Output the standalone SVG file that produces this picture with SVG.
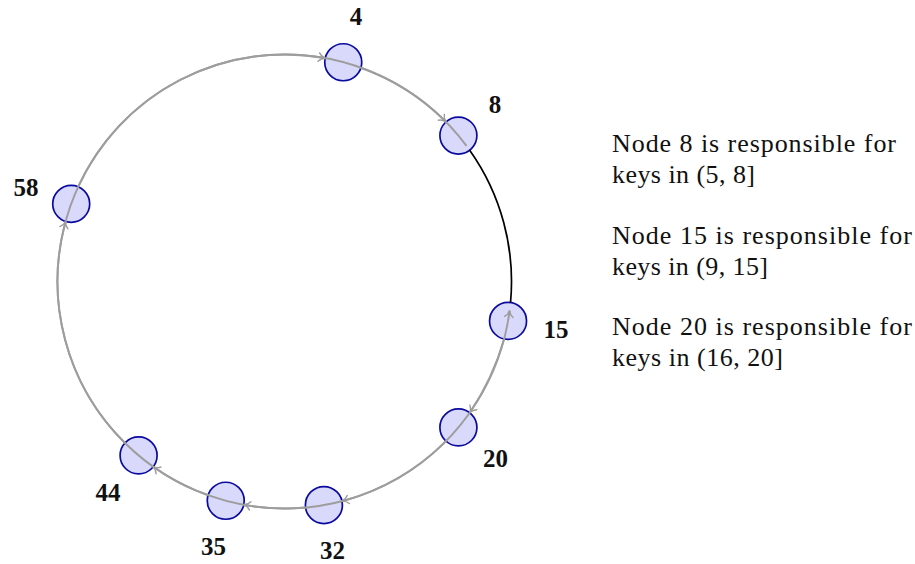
<svg xmlns="http://www.w3.org/2000/svg" width="915" height="564" viewBox="0 0 915 564">
<style>
.node circle{fill:#d9d9fb;stroke:#0a0aa0;stroke-width:1.7}
.lbl{font-family:"Liberation Serif",serif;font-weight:bold;font-size:25px;fill:#111;text-anchor:middle}
.txt{font-family:"Liberation Serif",serif;font-size:26px;fill:#111}
.arc{fill:none;stroke:#9d9d9d;stroke-width:1.9}
.arr{marker-end:url(#ah)}
.blk{fill:none;stroke:#000;stroke-width:1.7}
</style>
<defs>
<marker id="ah" markerUnits="userSpaceOnUse" markerWidth="14" markerHeight="14" viewBox="-8 -7 10 14" refX="0" refY="0" orient="auto" overflow="visible">
<path d="M -6.5 -4.2 C -4.8 -1.7 -1.9 -0.4 0 0 C -1.9 0.4 -4.8 1.7 -6.5 4.2" fill="none" stroke="#9d9d9d" stroke-width="1.4" stroke-linecap="round"/>
</marker>
</defs>
<g id="node4" class="node"><circle cx="343.25" cy="62.23" r="18.5"/><text class="lbl" x="356" y="25">4</text></g>
<g id="node8" class="node"><circle cx="458.4" cy="135.6" r="18.5"/><text class="lbl" x="495" y="113">8</text></g>
<g id="node15" class="node"><circle cx="508.05" cy="320.92" r="18.5"/><text class="lbl" x="556" y="338">15</text></g>
<g id="node20" class="node"><circle cx="458.4" cy="427.4" r="18.5"/><text class="lbl" x="495.5" y="467">20</text></g>
<g id="node32" class="node"><circle cx="323.9" cy="505.05" r="18.5"/><text class="lbl" x="332.5" y="559">32</text></g>
<g id="node35" class="node"><circle cx="225.75" cy="500.77" r="18.5"/><text class="lbl" x="213.5" y="555">35</text></g>
<g id="node44" class="node"><circle cx="138.6" cy="455.4" r="18.5"/><text class="lbl" x="108" y="501">44</text></g>
<g id="node58" class="node"><circle cx="71.2" cy="203.87" r="18.5"/><text class="lbl" x="26" y="196">58</text></g>
<g id="connectors">
<path class="arc arr" d="M 466.5 145.84 A 227 227 0 1 0 509.63 310.58"/>
<path class="blk" d="M 469.69 150.23 A 227 227 0 0 1 510.52 302.59"/>
<path class="arc arr" d="M 78.23 186.73 A 227 227 0 0 1 325.2 58.18"/>
<path class="arc arr" d="M 360.91 67.76 A 227 227 0 0 1 445.92 121.9"/>
<path class="arc arr" d="M 504.1 338.98 A 260 260 0 0 1 469.69 412.77"/>
<path class="arc arr" d="M 445.92 441.1 A 227 227 0 0 1 341.98 501.1"/>
<path class="arc arr" d="M 305.59 507.52 A 227 227 0 0 1 243.8 504.82"/>
<path class="arc arr" d="M 208.09 495.24 A 227 227 0 0 1 153.23 466.69"/>
<path class="arc arr" d="M 124.9 442.92 A 227 227 0 0 1 65.58 221.48"/>
</g>
<g id="notes">
<text class="txt" x="612" y="152" textLength="284" lengthAdjust="spacing">Node 8 is responsible for</text>
<text class="txt" x="612" y="183" textLength="143" lengthAdjust="spacing">keys in (5, 8]</text>
<text class="txt" x="612" y="244" textLength="300" lengthAdjust="spacing">Node 15 is responsible for</text>
<text class="txt" x="612" y="275" textLength="156" lengthAdjust="spacing">keys in (9, 15]</text>
<text class="txt" x="612" y="335" textLength="300" lengthAdjust="spacing">Node 20 is responsible for</text>
<text class="txt" x="612" y="366" textLength="171" lengthAdjust="spacing">keys in (16, 20]</text>
</g>
</svg>
